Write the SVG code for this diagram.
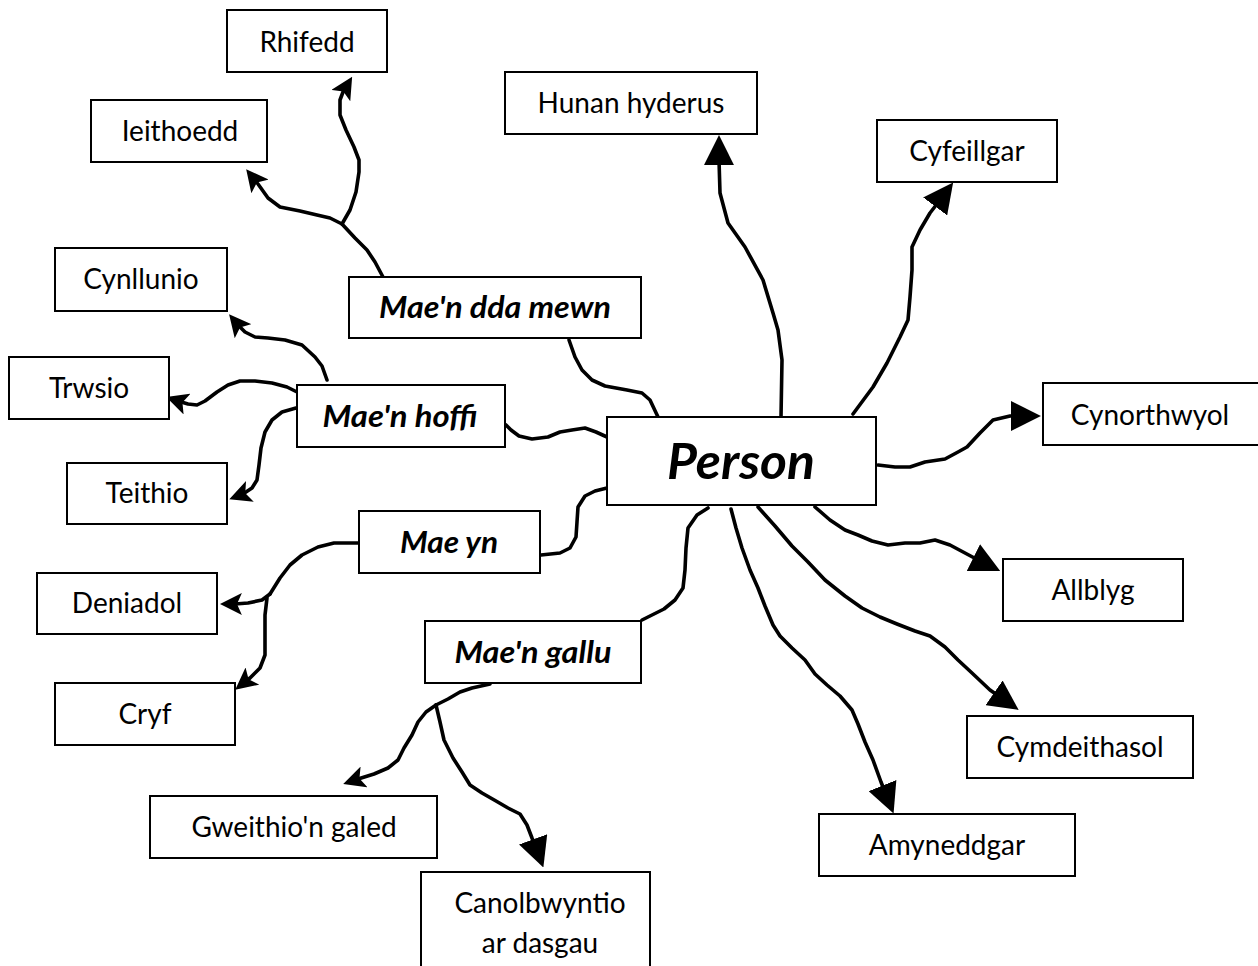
<svg xmlns="http://www.w3.org/2000/svg" width="1258" height="966" viewBox="0 0 1258 966">
<style>
.box{fill:#fff;stroke:#000;stroke-width:2}
.t{font-family:Lato,"Liberation Sans",sans-serif;font-size:28px;fill:#000;text-anchor:middle}
.b{font-family:Lato,"Liberation Sans",sans-serif;font-size:30px;font-weight:bold;font-style:italic;fill:#000;text-anchor:middle}
.c{fill:none;stroke:#000;stroke-width:3.6;stroke-linejoin:round;stroke-linecap:round}
.al{marker-end:url(#big)}
.as{marker-end:url(#small)}
</style>
<defs>
<marker id="big" markerUnits="userSpaceOnUse" markerWidth="30" markerHeight="30" viewBox="0 0 26 26" refX="20" refY="13" orient="auto">
<path d="M0,0 L26,13 L0,26 z" fill="#000"/>
</marker>
<marker id="small" markerUnits="userSpaceOnUse" markerWidth="22" markerHeight="22" viewBox="0 0 18 18" refX="13" refY="9" orient="auto">
<path d="M0,0 L18,9 L0,18 L4,9 z" fill="#000"/>
</marker>
</defs>
<rect width="1258" height="966" fill="#fff"/>
<g id="connectors">
<path class="c al" d="M781,417 L782,360 L778,330 L773,313 L763,280 L745,247 L728,223 L720,193 L719,160 L719,142"/>
<path class="c al" d="M853,414 L873,387 L887,363 L900,337 L908,320 L910,297 L912,270 L912,247 L920,230 L930,213 L940,200 L949,188"/>
<path class="c al" d="M878,465 L895,467 L910,467 L925,462 L945,459 L958,452 L967,447 L980,433 L993,420 L1010,416 L1034,416"/>
<path class="c al" d="M815,507 L830,520 L845,530 L858,535 L872,541 L888,545 L905,543 L920,543 L935,540 L950,545 L965,553 L980,561 L994,568"/>
<path class="c al" d="M758,507 L775,526 L792,546 L808,562 L825,580 L845,596 L862,608 L880,617 L897,624 L915,631 L930,636 L945,647 L958,660 L972,673 L990,690 L1013,706"/>
<path class="c al" d="M731,509 L736,528 L742,548 L750,570 L758,588 L765,606 L773,625 L780,636 L792,648 L805,660 L815,674 L827,685 L840,696 L852,710 L858,724 L865,742 L873,760 L881,782 L891,807"/>
<path class="c" d="M708,508 L697,515 L688,528 L686,548 L685,570 L683,588 L675,600 L664,609 L652,615 L642,620"/>
<path class="c" d="M607,488 L595,491 L585,496 L578,507 L577,522 L576,537 L570,548 L560,553 L541,555"/>
<path class="c" d="M607,437 L596,432 L585,428 L572,430 L560,432 L548,437 L532,439 L519,436 L511,430 L506,425"/>
<path class="c" d="M658,417 L650,400 L642,393 L627,390 L605,386 L592,380 L582,370 L575,357 L569,340"/>
<path class="c" d="M383,277 L375,262 L367,250 L355,238 L342,224"/>
<path class="c as" d="M342,224 L330,218 L317,215 L300,211 L280,207 L268,198 L258,184 L250,174"/>
<path class="c as" d="M342,224 L350,210 L356,192 L359,172 L359,160 L354,147 L346,130 L340,115 L340,100 L343,92 L349,82"/>
<path class="c as" d="M327,380 L322,366 L315,357 L302,345 L285,340 L268,338 L255,337 L245,332 L238,325 L233,319"/>
<path class="c as" d="M297,392 L287,387 L272,383 L255,381 L240,381 L228,385 L217,392 L205,401 L197,405 L188,404 L178,401 L172,399"/>
<path class="c as" d="M296,408 L282,412 L272,420 L265,432 L261,448 L259,465 L257,480 L252,488 L243,494 L235,497"/>
<path class="c" d="M359,543 L334,543 L318,547 L302,555 L290,565 L280,578 L270,594"/>
<path class="c as" d="M270,594 L262,600 L248,603 L235,604 L226,604"/>
<path class="c as" d="M267,598 L265,615 L265,635 L265,655 L260,668 L250,678 L240,686"/>
<path class="c" d="M490,684 L472,688 L460,692 L448,699 L436,705"/>
<path class="c as" d="M436,705 L426,712 L418,722 L412,735 L404,748 L398,760 L388,768 L374,774 L358,779 L349,782"/>
<path class="c al" d="M436,705 L440,722 L444,740 L453,758 L462,772 L470,785 L482,793 L496,801 L508,808 L520,814 L527,825 L532,838 L537,850 L541,861"/>
</g>
<g id="rhifedd"><rect class="box" x="227" y="10" width="160" height="62"/><text class="t" x="307" y="52">Rhifedd</text></g>
<g id="ieithoedd"><rect class="box" x="91" y="100" width="176" height="62"/><text class="t" x="180" y="141">Ieithoedd</text></g>
<g id="hunan-hyderus"><rect class="box" x="505" y="72" width="252" height="62"/><text class="t" x="631" y="113">Hunan hyderus</text></g>
<g id="cyfeillgar"><rect class="box" x="877" y="120" width="180" height="62"/><text class="t" x="967" y="161">Cyfeillgar</text></g>
<g id="cynllunio"><rect class="box" x="55" y="248" width="172" height="63"/><text class="t" x="141" y="289">Cynllunio</text></g>
<g id="mae-n-dda-mewn"><rect class="box" x="349" y="277" width="292" height="61"/><text class="b" x="495" y="318" textLength="232" lengthAdjust="spacingAndGlyphs">Mae'n dda mewn</text></g>
<g id="trwsio"><rect class="box" x="9" y="357" width="160" height="62"/><text class="t" x="89" y="398">Trwsio</text></g>
<g id="mae-n-hoffi"><rect class="box" x="297" y="385" width="208" height="62"/><text class="b" x="400" y="427" textLength="155" lengthAdjust="spacingAndGlyphs">Mae'n hoffi</text></g>
<g id="teithio"><rect class="box" x="67" y="463" width="160" height="61"/><text class="t" x="147" y="503">Teithio</text></g>
<g id="person"><rect class="box" x="607" y="417" width="269" height="88"/><text class="b" x="741" y="479" style="font-size:49px" textLength="148" lengthAdjust="spacingAndGlyphs">Person</text></g>
<g id="cynorthwyol"><rect class="box" x="1043" y="383" width="216" height="62"/><text class="t" x="1150" y="425">Cynorthwyol</text></g>
<g id="mae-yn"><rect class="box" x="359" y="511" width="181" height="62"/><text class="b" x="449" y="553" textLength="98" lengthAdjust="spacingAndGlyphs">Mae yn</text></g>
<g id="deniadol"><rect class="box" x="37" y="573" width="180" height="61"/><text class="t" x="127" y="613">Deniadol</text></g>
<g id="allblyg"><rect class="box" x="1003" y="559" width="180" height="62"/><text class="t" x="1093" y="600">Allblyg</text></g>
<g id="mae-n-gallu"><rect class="box" x="425" y="621" width="216" height="62"/><text class="b" x="533" y="663" textLength="157" lengthAdjust="spacingAndGlyphs">Mae'n gallu</text></g>
<g id="cryf"><rect class="box" x="55" y="683" width="180" height="62"/><text class="t" x="145" y="724">Cryf</text></g>
<g id="cymdeithasol"><rect class="box" x="967" y="716" width="226" height="62"/><text class="t" x="1080" y="757">Cymdeithasol</text></g>
<g id="gweithio-n-galed"><rect class="box" x="150" y="796" width="287" height="62"/><text class="t" x="294" y="837">Gweithio'n galed</text></g>
<g id="amyneddgar"><rect class="box" x="819" y="814" width="256" height="62"/><text class="t" x="947" y="855">Amyneddgar</text></g>
<g id="canolbwyntio"><rect class="box" x="421" y="872" width="229" height="100"/><text class="t" x="540" y="913">Canolbwyntio</text><text class="t" x="540" y="953">ar dasgau</text></g>
</svg>
